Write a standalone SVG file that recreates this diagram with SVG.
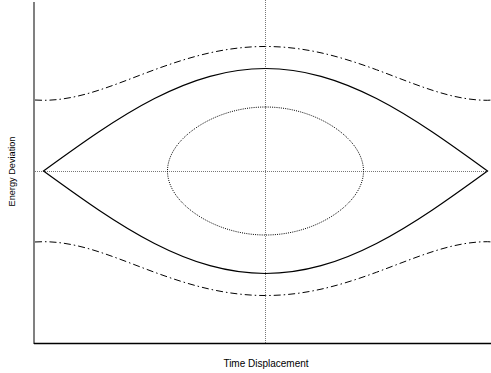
<svg xmlns="http://www.w3.org/2000/svg" width="491" height="373" viewBox="0 0 491 373">
<style>
.lbl{font-family:"Liberation Sans",Arial,sans-serif;fill:#000}
.sep{fill:none;stroke:#000;stroke-width:1.2}
.dd{fill:none;stroke:#000;stroke-width:1;stroke-dasharray:7 3 1.5 3}
.dot{fill:none;stroke:#000;stroke-width:1;stroke-dasharray:1 1.2}
.ref{fill:none;stroke:#777;stroke-width:1;stroke-dasharray:1 1}
</style>
<rect width="491" height="373" fill="#fff"/>
<g id="axes">
<line x1="265.5" y1="0" x2="265.5" y2="343" class="ref"/>
<line x1="35" y1="171.5" x2="487.5" y2="171.5" class="ref"/>
<line x1="34" y1="2" x2="34" y2="344" stroke="#808080" stroke-width="2"/>
<line x1="34" y1="343.5" x2="491" y2="343.5" stroke="#000" stroke-width="1.3"/>
</g>
<g id="curves">
<path id="separatrix" class="sep" d="M43.5 171 C62 157.58 80.5 144.18 99 131.78 C117.5 119.38 136 108.01 154.5 98.52 C173 89.03 191.5 81.43 210 76.3 C228.5 71.17 247 68.5 265.5 68.5 C284 68.5 302.5 71.17 321 76.3 C339.5 81.43 358 89.03 376.5 98.52 C395 108.01 413.5 119.38 432 131.78 C450.5 144.18 469 157.58 487.5 171 C469 184.42 450.5 197.82 432 210.22 C413.5 222.62 395 233.99 376.5 243.48 C358 252.97 339.5 260.57 321 265.7 C302.5 270.83 284 273.5 265.5 273.5 C247 273.5 228.5 270.83 210 265.7 C191.5 260.57 173 252.97 154.5 243.48 C136 233.99 117.5 222.62 99 210.22 C80.5 197.82 62 184.42 43.5 171 Z"/>
<path id="outer-upper" class="dd" d="M35 100.03 L43.5 100.3 C62 100.3 80.5 96.16 99 90.15 C117.5 84.14 136 76.54 154.5 69.75 C173 62.96 191.5 56.93 210 52.82 C228.5 48.71 247 46.48 265.5 46.48 C284 46.48 302.5 48.71 321 52.82 C339.5 56.93 358 62.96 376.5 69.75 C395 76.54 413.5 84.14 432 90.15 C450.5 96.16 469 100.3 487.5 100.3 L491 100.1"/>
<path id="outer-lower" class="dd" d="M35 241.97 L43.5 241.7 C62 241.7 80.5 245.84 99 251.85 C117.5 257.86 136 265.46 154.5 272.25 C173 279.04 191.5 285.07 210 289.18 C228.5 293.29 247 295.52 265.5 295.52 C284 295.52 302.5 293.29 321 289.18 C339.5 285.07 358 279.04 376.5 272.25 C395 265.46 413.5 257.86 432 251.85 C450.5 245.84 469 241.7 487.5 241.7 L491 241.9"/>
<path id="inner" class="dot" d="M265.5 107 C281.27 107 297.07 109.99 311.48 115.57 C325.89 121.16 338.97 129.33 348.44 139 C357.91 148.67 363.5 159.83 363.5 171 C363.5 182.17 357.91 193.33 348.44 203 C338.97 212.67 325.89 220.84 311.48 226.43 C297.07 232.01 281.27 235 265.5 235 C249.73 235 233.93 232.01 219.52 226.43 C205.11 220.84 192.03 212.67 182.56 203 C173.09 193.33 167.5 182.17 167.5 171 C167.5 159.83 173.09 148.67 182.56 139 C192.03 129.33 205.11 121.16 219.52 115.57 C233.93 109.99 249.73 107 265.5 107 Z"/>
</g>
<g id="labels">
<text class="lbl" x="266" y="367" font-size="10" text-anchor="middle">Time Displacement</text>
<text class="lbl" transform="translate(15,171.5) rotate(-90)" font-size="9.2" text-anchor="middle">Energy Deviation</text>
</g>
</svg>
